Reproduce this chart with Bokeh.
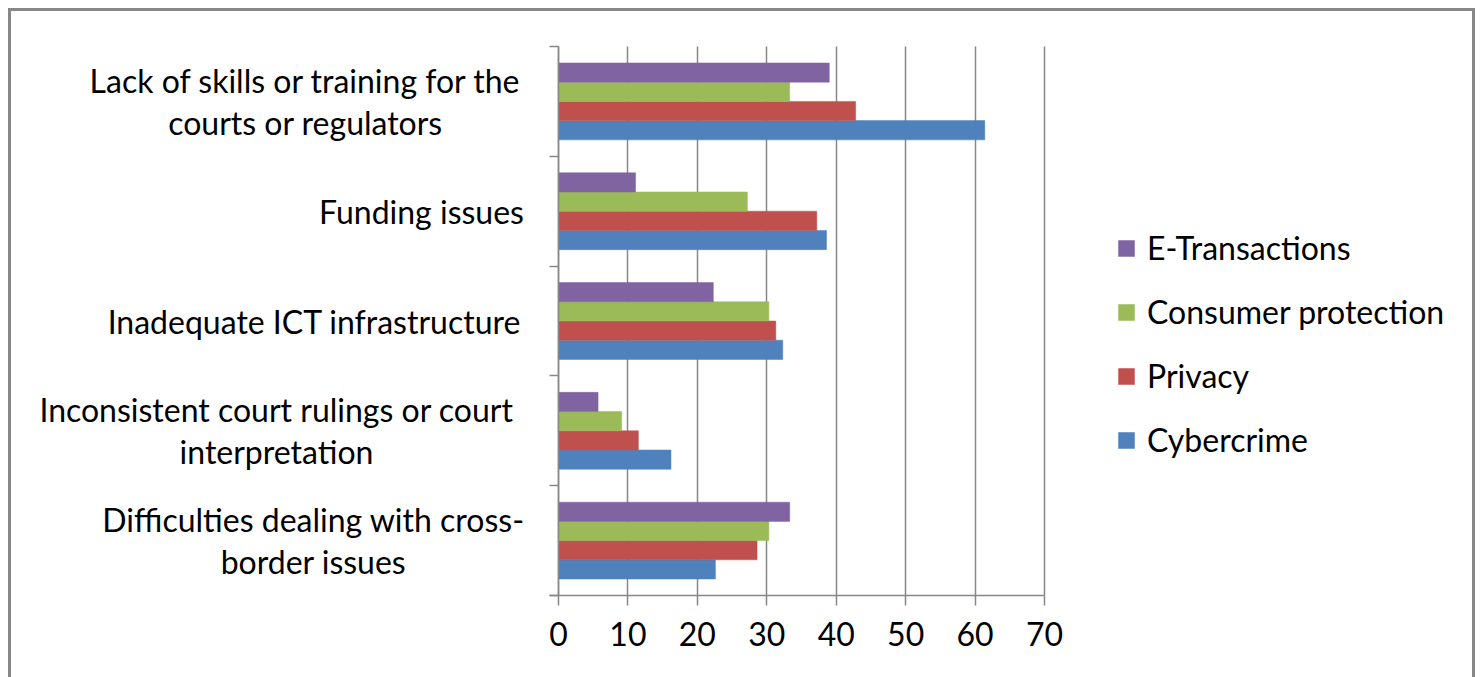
from bokeh.plotting import figure
from bokeh.models import (ColumnDataSource, FixedTicker, Label, Legend, LegendItem, Range1d,
                          LinearAxis, Grid)
from bokeh.transform import dodge
from bokeh.embed import file_html
from bokeh.resources import INLINE

# ---------------- data ----------------
categories = [
    "Difficulties dealing with cross-border issues",
    "Inconsistent court rulings or court interpretation",
    "Inadequate ICT infrastructure",
    "Funding issues",
    "Lack of skills or training for the courts or regulators",
]
label_lines = [
    ["Difficulties dealing with cross-", "border issues"],
    ["Inconsistent court rulings or court", "interpretation"],
    ["Inadequate ICT infrastructure"],
    ["Funding issues"],
    ["Lack of skills or training for the", "courts or regulators"],
]
series_names = ["Cybercrime", "Privacy", "Consumer protection", "E-Transactions"]
cybercrime = [22.6, 16.2, 32.3, 38.6, 61.4]
privacy = [28.6, 11.5, 31.3, 37.2, 42.8]
consumer_protection = [30.3, 9.1, 30.3, 27.2, 33.3]
e_transactions = [33.3, 5.7, 22.3, 11.1, 39.0]
x_ticks = [0, 10, 20, 30, 40, 50, 60, 70]

# ---------------- styles / layout ----------------
colors = ["#4F81BD", "#C0504D", "#9BBB59", "#8064A2"]
FONT = "Lato"
FS = "32px"
GRAY = "#878787"
W, H = 1467, 672                 # canvas size (page offset 11 px by margin+border)
PLOT_L, PLOT_R = 547, 1033       # x=0 and x=70 in canvas px
PLOT_T, PLOT_B = 35, 584         # top and bottom of category area in canvas px
label_center_px = [-245, -282, -244, -137, -253]   # label block centres, px from x=0
Y_TICK_OUT = 9

xmax = x_ticks[-1]
ncat = len(categories)
ux = (PLOT_R - PLOT_L) / xmax
uy = (PLOT_B - PLOT_T) / ncat
x_range = Range1d(-PLOT_L / ux, (W - PLOT_L) / ux)
y_range = Range1d(-(H - PLOT_B) / uy, ncat + PLOT_T / uy)

src = ColumnDataSource(dict(
    pos=[i + 0.5 for i in range(ncat)],
    cat=categories,
    Cybercrime=cybercrime,
    Privacy=privacy,
    **{"Consumer protection": consumer_protection},
    **{"E-Transactions": e_transactions},
))

p = figure(width=W, height=H, output_backend="svg", toolbar_location=None,
           x_range=x_range, y_range=y_range, x_axis_location=None, y_axis_location=None,
           min_border=0)
p.styles = {"border": "3px solid " + GRAY, "margin-left": "8px", "margin-top": "8px"}
p.outline_line_color = None
p.background_fill_color = "white"
p.border_fill_color = "white"
p.xgrid.visible = False
p.ygrid.visible = False

# vertical gridlines limited to the category area
grid_kw = dict(dimension=0, ticker=FixedTicker(ticks=x_ticks), grid_line_color=GRAY,
               grid_line_width=1.5)
if "cross_bounds" in Grid.properties():
    p.add_layout(Grid(cross_bounds=(0, ncat), **grid_kw))
else:
    p.segment(x0=x_ticks, x1=x_ticks, y0=[0] * len(x_ticks), y1=[ncat] * len(x_ticks),
              line_color=GRAY, line_width=1.5)

bar_h = 0.175
renderers = {}
for k, name in enumerate(series_names):
    off = (k - 1.5) * bar_h
    r = p.hbar(y=dodge("pos", off), left=0, right=name, height=bar_h, source=src,
               fill_color=colors[k], line_color=colors[k], line_width=0.5)
    renderers[name] = r

# x axis at y=0
xa = LinearAxis(fixed_location=0, bounds=(-Y_TICK_OUT / ux, xmax), ticker=FixedTicker(ticks=x_ticks))
xa.major_label_text_font = FONT
xa.major_label_text_font_size = FS
xa.major_label_text_color = "black"
xa.axis_line_color = GRAY
xa.axis_line_width = 1.5
xa.major_tick_line_color = GRAY
xa.major_tick_line_width = 1.5
xa.major_tick_out = 10
xa.major_tick_in = 0
xa.minor_tick_line_color = None
xa.major_label_standoff = 16
p.add_layout(xa, "below")

# y axis at x=0: boundary ticks only (minor ticks, no labels)
ya = LinearAxis(fixed_location=0, bounds=(0, ncat),
                ticker=FixedTicker(ticks=[], minor_ticks=list(range(ncat + 1))))
ya.axis_line_color = GRAY
ya.axis_line_width = 1.5
ya.major_tick_line_color = None
ya.minor_tick_line_color = GRAY
ya.minor_tick_line_width = 1.5
ya.minor_tick_out = Y_TICK_OUT
ya.minor_tick_in = 0
p.add_layout(ya, "left")

# category labels
line_gap = 42
for i, lines in enumerate(label_lines):
    n = len(lines)
    for j, line in enumerate(lines):
        p.add_layout(Label(x=0, y=i + 0.5, x_offset=label_center_px[i],
                           y_offset=((n - 1) / 2 - j) * line_gap,
                           text=line, text_align="center", text_baseline="middle",
                           text_font=FONT, text_font_size=FS, text_color="black"))

legend = Legend(items=[LegendItem(label=n, renderers=[renderers[n]]) for n in reversed(series_names)],
                location=(1105, 224), glyph_width=20, glyph_height=20,
                label_text_font=FONT, label_text_font_size=FS, label_text_color="black",
                label_height=36, spacing=25, padding=0, margin=0, label_standoff=11,
                border_line_color=None, background_fill_alpha=0)
p.add_layout(legend, "center")

open("out.html", "w").write(file_html(p, INLINE))
